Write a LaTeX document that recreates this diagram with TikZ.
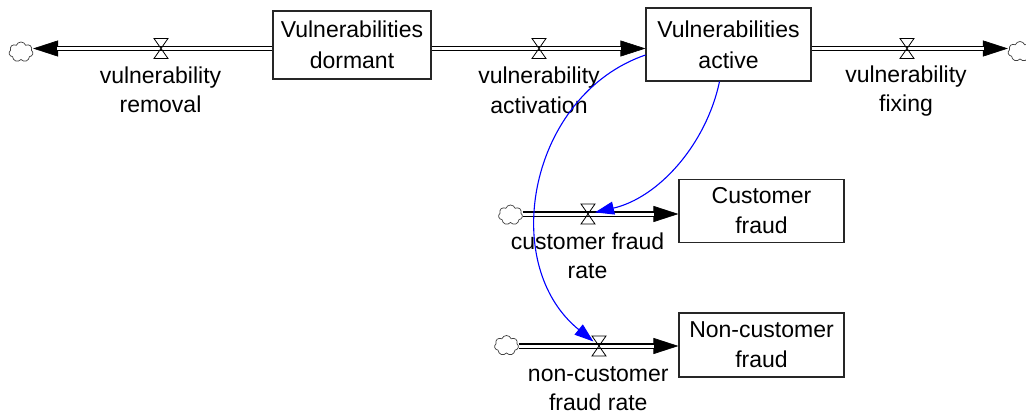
\documentclass[tikz,border=0pt]{standalone}
\usepackage{fontspec}
\setmainfont{Liberation Sans}
\usetikzlibrary{arrows.meta,shapes.symbols,calc}

\tikzset{
  stockbox/.style={draw=black!85, line width=1.1pt, fill=white, inner sep=0pt,
    align=center, font=\fontsize{23}{31}\selectfont},
  lowstock/.style={stockbox, font=\fontsize{23}{30}\selectfont},
  flowlabel/.style={align=center, inner sep=0pt, anchor=base,
    font=\fontsize{23}{29.5}\selectfont},
  source/.style={cloud, cloud puffs=7, cloud puff arc=140, cloud ignores aspect,
    draw=black!75, line width=0.7pt, fill=white,
    minimum width=24pt, minimum height=20pt, inner sep=0pt},
  valvenode/.style={circle, minimum size=14pt, inner sep=0pt},
  pipe/.style={draw=black, line width=1.2pt, double=white, double distance=3pt},
  pipehead/.style={draw=black, line width=0.6pt, -{Triangle[length=25pt,width=16pt]}},
  infolink/.style={draw=blue, line width=1.1pt, -{Triangle[length=19pt,width=13pt]}},
  pics/hourglass/.style={code={
    \draw[line width=0.8pt, black] (-7,10) -- (7,10) -- (-7,-10) -- (7,-10) -- cycle;}}
}

\begin{document}
\begin{tikzpicture}[x=1pt, y=1pt]
  \useasboundingbox (0,0) rectangle (1026,-417);
  \fill[white] (0,0) rectangle (1026,-417);

  % sources and sinks
  \node[source] (c1) at (21,-52) {};
  \node[source] (c2) at (1020,-51.5) {};
  \node[source] (c3) at (510.5,-215) {};
  \node[source] (c4) at (506.5,-345.5) {};

  % stocks
  \node[stockbox, minimum width=158pt, minimum height=68pt] (vd) at (352,-45) {Vulnerabilities\\dormant};
  \node[stockbox, minimum width=165pt, minimum height=73pt] (va) at (728.5,-44.5) {Vulnerabilities\\active};
  \node[lowstock, minimum width=165pt, minimum height=63pt] (cf) at (761.5,-210.8) {Customer\\fraud};
  \node[lowstock, minimum width=165pt, minimum height=64pt] (nf) at (761.5,-345) {Non-customer\\fraud};

  % valves
  \node[valvenode] (v1) at (161,-48.5) {};
  \node[valvenode] (v2) at (539,-48.5) {};
  \node[valvenode] (v3) at (907,-48.5) {};
  \node[valvenode] (v4) at (588,-214) {};
  \node[valvenode] (v5) at (599,-346) {};

  % flow pipes
  \draw[pipehead] (vd.west |- v1) -- (v1 -| c1.east);
  \draw[pipe, shorten >=24pt] (vd.west |- v1) -- (v1 -| c1.east);

  \draw[pipehead] (vd.east |- v2) -- (va.west |- v2);
  \draw[pipe, shorten >=24pt] (vd.east |- v2) -- (va.west |- v2);

  \draw[pipehead] (va.east |- v3) -- (v3 -| c2.west);
  \draw[pipe, shorten >=24pt] (va.east |- v3) -- (v3 -| c2.west);

  \draw[pipehead] (v4 -| c3.east) -- (v4 -| cf.west);
  \draw[pipe, shorten >=24pt] (v4 -| c3.east) -- (v4 -| cf.west);

  \draw[pipehead] (v5 -| c4.east) -- (v5 -| nf.west);
  \draw[pipe, shorten >=24pt] (v5 -| c4.east) -- (v5 -| nf.west);

  % valve symbols
  \foreach \v in {v1,v2,v3,v4,v5} { \pic at (\v) {hourglass}; }

  % flow names (anchored on the baseline of the second line)
  \node[flowlabel] (l1) at (160.5,-113) {vulnerability\\removal};
  \node[flowlabel] (l2) at (539,-113.3) {vulnerability\\activation};
  \node[flowlabel] (l3) at (906,-112) {vulnerability\\fixing};
  \node[flowlabel] (l4) at (587.5,-278.5) {customer fraud\\rate};
  \node[flowlabel] (l5) at (598.3,-410.5) {non-customer\\fraud rate};

  % information links
  \draw[infolink] ([xshift=-9pt]va.south) to[out=258, in=13, looseness=0.92] (v4);
  \draw[infolink] ([yshift=-10.5pt]va.west) to[out=199, in=141, looseness=1.08] (v5);
\end{tikzpicture}
\end{document}
